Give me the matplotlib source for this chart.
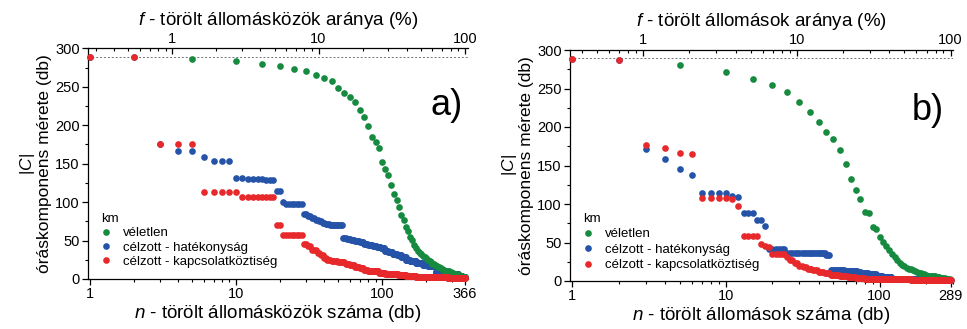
import numpy as np
import matplotlib
matplotlib.use('Agg')
import matplotlib.pyplot as plt
from matplotlib.ticker import FixedLocator, NullFormatter, LogLocator, MultipleLocator
from matplotlib.lines import Line2D

plt.rcParams['font.family'] = ['Liberation Sans', 'DejaVu Sans']
plt.rcParams['mathtext.fontset'] = 'custom'
plt.rcParams['mathtext.rm'] = 'Liberation Sans'
plt.rcParams['mathtext.it'] = 'Liberation Sans:italic'

# ---------------- data ----------------
TOTAL_NODES = 289
N_A = 366   # edges (állomásközök)
N_B = 289   # nodes (állomások)

# random removal, sampled every 5 removals
random_n_a = list(range(5, N_A, 5))
random_a = [286, 284, 280, 277, 273, 271, 265, 261, 257, 249,
            242, 237, 230, 220, 211, 199, 185, 178, 171, 152,
            143, 135, 122, 110, 103, 93, 83, 77, 68, 62,
            55, 51, 44, 40, 37, 34, 32, 30, 28, 27,
            25, 23, 22, 20, 19, 18, 17, 16, 15, 14,
            13, 12, 12, 11, 11, 10, 10, 9, 9, 8,
            8, 7, 7, 6, 6, 5, 5, 4, 4, 3,
            3, 2, 2]

random_n_b = list(range(5, N_B, 5))
random_b = [281, 272, 262, 254, 245, 232, 220, 207, 193, 184,
            170, 152, 133, 118, 106, 90, 88, 70, 68, 57,
            51, 46, 40, 35, 31, 27, 24, 21, 19, 17,
            16, 15, 14, 13, 12, 11, 10, 9, 9, 8,
            7, 7, 7, 6, 6, 6, 5, 5, 5, 4,
            4, 4, 4, 3, 3, 3, 3]

# targeted removals: staircase (value holds from n_start until next n_start)
eff_a_start = [1, 3, 4, 6, 7, 10, 12, 16, 19, 21, 22, 29, 31, 33, 35, 37, 39, 41, 44, 54,
               57, 61, 65, 70, 75, 80, 86, 92, 98, 104, 110, 118, 126, 135, 145, 155, 170, 190, 205, 232,
               270, 300, 330, 350]
eff_a_value = [289, 176, 167, 158, 154, 131, 130, 129, 114, 100, 97, 84, 82, 79, 77, 75, 73, 71, 70, 53,
               52, 51, 49, 48, 46, 44, 43, 41, 40, 37, 35, 33, 31, 28, 25, 24, 21, 18, 17, 9,
               7, 6, 4, 2]

conn_a_start = [1, 3, 6, 11, 19, 21, 29, 31, 33, 36, 38, 40, 42, 45, 50, 56, 60, 65, 70, 75,
                80, 88, 95, 105, 115, 128, 145, 170, 213, 280]
conn_a_value = [289, 176, 113, 106, 70, 57, 46, 43, 38, 34, 31, 27, 25, 23, 22, 20, 18, 16, 14, 12,
                11, 10, 8, 7, 6, 5, 4, 3, 2, 1]

eff_b_start = [1, 2, 3, 4, 5, 6, 7, 11, 12, 13, 16, 18, 19, 25, 35, 45, 48, 60, 72, 76,
               85, 95, 105, 120, 150, 200]
eff_b_value = [288, 287, 171, 159, 145, 138, 114, 111, 109, 88, 79, 71, 42, 37, 36, 34, 14, 13, 12, 10,
               9, 7, 5, 3, 2, 1]

conn_b_start = [1, 2, 3, 4, 5, 6, 7, 11, 12, 13, 17, 18, 19, 20, 25, 26, 28, 30, 32, 34,
                37, 40, 44, 48, 55, 62, 70, 80, 110, 160]
conn_b_value = [288, 287, 176, 173, 166, 165, 108, 106, 98, 59, 48, 46, 44, 35, 31, 27, 23, 20, 18, 16,
                14, 12, 10, 8, 6, 5, 4, 3, 2, 1]

legend_title = 'km'
labels = ['véletlen', 'célzott - hatékonyság', 'célzott - kapcsolatköztiség']
colors = ['#168a3e', '#2453a8', '#e8292b']


def expand(starts, values, n_max):
    n = np.arange(1, n_max + 1)
    idx = np.searchsorted(starts, n, side='right') - 1
    return n, np.asarray(values)[idx]


def panel(ax, N, rn, rv, es, ev, cs, cv, xlab, toplab, tag, xmin, xmax, leg_anchor, leg_spacing):
    ms = 4.8
    n_e, v_e = expand(es, ev, N)
    n_c, v_c = expand(cs, cv, N)
    ax.axhline(TOTAL_NODES, color='0.45', ls=(0, (2, 2)), lw=0.7, zorder=1)
    ax.plot(n_e, v_e, 'o', color=colors[1], ms=ms, mec='none', zorder=3, clip_on=False)
    ax.plot(rn, rv, 'o', color=colors[0], ms=ms, mec='none', zorder=4, clip_on=False)
    ax.plot(n_c, v_c, 'o', color=colors[2], ms=ms, mec='none', zorder=5, clip_on=False)
    ax.set_xscale('log')
    ax.set_xlim(xmin, xmax)
    ax.set_ylim(0, 300)
    ax.spines['right'].set_visible(False)
    ax.spines['top'].set_visible(False)
    for s in ax.spines.values():
        s.set_linewidth(0.9)
    ax.xaxis.set_major_locator(FixedLocator([1, 10, 100, N]))
    ax.set_xticklabels(['1', '10', '100', str(N)])
    ax.xaxis.set_minor_locator(LogLocator(base=10, subs=np.arange(2, 10)))
    ax.xaxis.set_minor_formatter(NullFormatter())
    ax.yaxis.set_major_locator(MultipleLocator(50))
    ax.yaxis.set_minor_locator(MultipleLocator(25))
    ax.tick_params(axis='both', which='major', direction='out', length=4, width=0.9, labelsize=10.5, pad=2)
    ax.tick_params(axis='both', which='minor', direction='out', length=2.5, width=0.8)
    ax.tick_params(axis='x', which='both', top=False)
    ax.tick_params(axis='y', which='both', right=False)
    ax.set_xlabel(xlab, fontsize=13.5, labelpad=1)
    ax.set_ylabel('$|C|$\nóráskomponens mérete (db)', fontsize=12.5, labelpad=2, linespacing=1.05)

    sec = ax.secondary_xaxis('top', functions=(lambda x: x / N * 100.0, lambda f: f * N / 100.0))
    sec.xaxis.set_major_locator(FixedLocator([1, 10, 100]))
    sec.set_xticklabels(['1', '10', '100'])
    sec.xaxis.set_minor_locator(LogLocator(base=10, subs=np.arange(2, 10)))
    sec.xaxis.set_minor_formatter(NullFormatter())
    sec.tick_params(which='major', direction='in', length=4, width=0.9, labelsize=10.5, pad=2)
    sec.tick_params(which='minor', direction='in', length=2.5, width=0.8)
    sec.spines['top'].set_linewidth(0.9)
    sec.set_xlabel(toplab, fontsize=13.5, labelpad=5)

    ax.text(tag[1], tag[2], tag[0], transform=ax.transAxes, fontsize=26, ha='center', va='center')

    handles = [Line2D([], [], ls='none', marker='o', ms=ms, mec='none', color=c) for c in colors]
    ax.legend(handles, labels, title=legend_title, loc='upper left', bbox_to_anchor=leg_anchor,
              frameon=False, fontsize=9.5, title_fontsize=9.5, alignment='left',
              handlelength=0.8, handletextpad=0.9, labelspacing=leg_spacing,
              borderpad=0, borderaxespad=0)


fig = plt.figure(figsize=(9.67, 3.29), dpi=100)
axA = fig.add_axes([88 / 967, 50 / 329, 380 / 967, 230.7 / 329])
axB = fig.add_axes([570 / 967, 48 / 329, 383 / 967, 231 / 329])

panel(axA, N_A, random_n_a, random_a, eff_a_start, eff_a_value, conn_a_start, conn_a_value,
      '$n$ - törölt állomásközök száma (db)', '$f$ - törölt állomásközök aránya (%)',
      ('a)', 0.945, 0.75), 0.97, 385, (0.034, 0.285), 0.15)
panel(axB, N_B, random_n_b, random_b, eff_b_start, eff_b_value, conn_b_start, conn_b_value,
      '$n$ - törölt állomások száma (db)', '$f$ - törölt állomások aránya (%)',
      ('b)', 0.935, 0.74), 0.966, 300, (0.034, 0.295), 0.25)

fig.savefig('out.png', dpi=100)
